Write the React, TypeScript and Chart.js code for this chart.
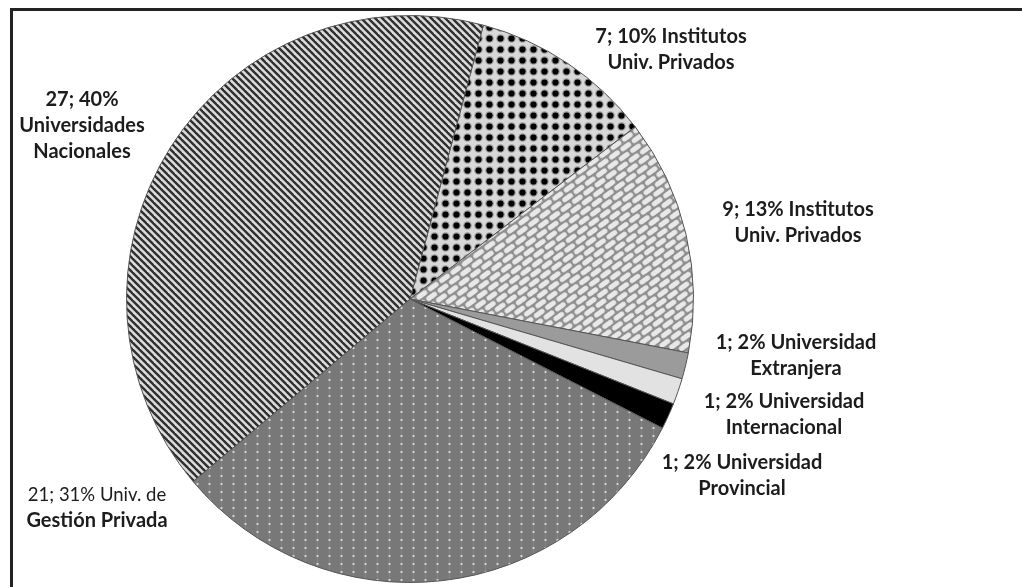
import React, { useEffect, useRef } from 'react';
import { Chart, registerables } from 'chart.js';

Chart.register(...registerables);

// ---- data ----
const categories = [
  'Institutos Univ. Privados',
  'Institutos Univ. Privados',
  'Universidad Extranjera',
  'Universidad Internacional',
  'Universidad Provincial',
  'Univ. de Gestión Privada',
  'Universidades Nacionales',
];
const values = [7, 9, 1, 1, 1, 21, 27];
const percents = ['10%', '13%', '2%', '2%', '2%', '31%', '40%'];
const labelHead = ['Institutos', 'Institutos', 'Universidad', 'Universidad', 'Universidad', 'Univ. de', ''];
const labelTail = [['Univ. Privados'], ['Univ. Privados'], ['Extranjera'], ['Internacional'], ['Provincial'], ['Gestión Privada'], ['Universidades', 'Nacionales']];

// ---- layout (label anchor centres, first line y) ----
const labelPos = [
  [671, 37],
  [798, 210],
  [796, 343],
  [784, 402],
  [742, 463],
  [97, 495],
  [82, 100],
];
const LINE_H = 26;

function makeTile(w: number, h: number, draw: (c: CanvasRenderingContext2D) => void) {
  const t = document.createElement('canvas');
  t.width = w;
  t.height = h;
  const c = t.getContext('2d')!;
  draw(c);
  return t;
}

function buildFills(ctx: CanvasRenderingContext2D) {
  // dotted check (7)
  const dots = makeTile(11, 11, (c) => {
    c.fillStyle = '#d8d8d8';
    c.fillRect(0, 0, 11, 11);
    c.fillStyle = '#9a9a9a';
    c.beginPath(); c.arc(5.5, 5.5, 4.3, 0, Math.PI * 2); c.fill();
    c.fillStyle = '#000';
    c.beginPath(); c.arc(5.5, 5.5, 3.1, 0, Math.PI * 2); c.fill();
  });
  // basket weave (9)
  const basket = makeTile(14, 14, (c) => {
    c.fillStyle = '#8e8e8e';
    c.fillRect(0, 0, 14, 14);
    c.fillStyle = '#e8e8e8';
    const rr = (x: number, y: number, w: number, h: number) => {
      c.beginPath();
      (c as any).roundRect(x, y, w, h, 2.5);
      c.fill();
    };
    rr(0.9, 0.9, 12.2, 5.2);
    rr(-6.1, 7.9, 12.2, 5.2);
    rr(7.9, 7.9, 12.2, 5.2);
  });
  // dotted grey (21)
  const grey = makeTile(12, 8, (c) => {
    c.fillStyle = '#787878';
    c.fillRect(0, 0, 12, 8);
    c.fillStyle = '#868686';
    c.fillRect(5, 0, 1, 8);
    c.fillStyle = '#d2d2d2';
    c.fillRect(4.5, 3, 2, 2);
  });
  // diagonal stripes (27)
  const stripes = makeTile(7, 7, (c) => {
    c.fillStyle = '#dcdcdc';
    c.fillRect(0, 0, 7, 7);
    c.strokeStyle = '#303030';
    c.lineWidth = 2.4;
    for (let k = -1; k <= 1; k++) {
      c.beginPath();
      c.moveTo(-2, 7 * k - 2);
      c.lineTo(9, 7 * k + 9);
      c.stroke();
    }
  });
  const pDots = ctx.createPattern(dots, 'repeat')!;
  const pBasket = ctx.createPattern(basket, 'repeat')!;
  pBasket.setTransform(new DOMMatrix().rotateSelf(-36));
  const pGrey = ctx.createPattern(grey, 'repeat')!;
  const pStripes = ctx.createPattern(stripes, 'repeat')!;
  return [pDots, pBasket, '#9b9b9b', '#e2e2e2', '#000000', pGrey, pStripes];
}

const FONT = 'Lato, "Open Sans", sans-serif';

const framePlugin = {
  id: 'frame',
  beforeDraw(chart: any) {
    const c = chart.ctx as CanvasRenderingContext2D;
    c.save();
    c.fillStyle = '#232323';
    c.fillRect(10, 8, 1012, 3);
    c.fillRect(10, 8, 3, 579);
    c.restore();
  },
};

const labelPlugin = {
  id: 'sliceLabels',
  afterDraw(chart: any) {
    const c = chart.ctx as CanvasRenderingContext2D;
    c.save();
    c.fillStyle = '#1c1c1c';
    c.textAlign = 'center';
    c.textBaseline = 'middle';
    values.forEach((v, i) => {
      const [x, y] = labelPos[i];
      const head = `${v}; ${percents[i]}${labelHead[i] ? ' ' + labelHead[i] : ''}`;
      const lines = [head, ...labelTail[i]];
      lines.forEach((ln, j) => {
        const bold = !(i === 5 && j === 0);
        c.font = bold ? `bold 20px ${FONT}` : `18.5px ${FONT}`;
        c.fillText(ln, x, y + j * LINE_H);
      });
    });
    c.restore();
  },
};

export default function App() {
  const ref = useRef<HTMLCanvasElement>(null);
  useEffect(() => {
    document.body.style.margin = '0';
    const canvas = ref.current!;
    const ctx = canvas.getContext('2d')!;
    const fills = buildFills(ctx);
    const chart = new Chart(canvas, {
      type: 'pie',
      data: {
        labels: categories,
        datasets: [
          {
            data: values,
            backgroundColor: fills as any,
            borderColor: '#555555',
            borderWidth: 1,
          },
        ],
      },
      options: {
        responsive: false,
        animation: false,
        rotation: 15,
        layout: { padding: { left: 126, right: 328, top: 15, bottom: 4 } },
        plugins: {
          legend: { display: false },
          tooltip: { enabled: false },
        },
      },
      plugins: [framePlugin, labelPlugin],
    });
    return () => chart.destroy();
  }, []);
  return (
    <div style={{ position: 'absolute', left: 0, top: 0, width: 1022, height: 587, background: '#fff' }}>
      <canvas ref={ref} width={1022} height={587} style={{ display: 'block' }} />
    </div>
  );
}
